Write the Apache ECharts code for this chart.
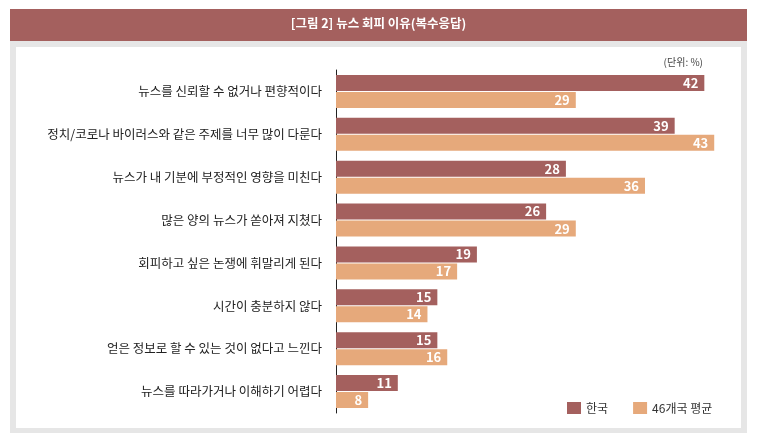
<!DOCTYPE html>
<html>
<head>
<meta charset="utf-8">
<script src="https://cdn.jsdelivr.net/npm/echarts@6/dist/echarts.min.js"></script>
<style>
  html, body { margin: 0; padding: 0; background: #fff; }
  #main { width: 757px; height: 442px; }
</style>
</head>
<body>
<div id="main"></div>
<script>
// 항목 (위에서 아래 순서)
var categories = [
  '뉴스를 신뢰할 수 없거나 편향적이다',
  '정치/코로나 바이러스와 같은 주제를 너무 많이 다룬다',
  '뉴스가 내 기분에 부정적인 영향을 미친다',
  '많은 양의 뉴스가 쏟아져 지쳤다',
  '회피하고 싶은 논쟁에 휘말리게 된다',
  '시간이 충분하지 않다',
  '얻은 정보로 할 수 있는 것이 없다고 느낀다',
  '뉴스를 따라가거나 이해하기 어렵다'
];
var seriesNames = ['한국', '46개국 평균'];
var korea = [42, 39, 28, 26, 19, 15, 15, 11];
var average = [29, 43, 36, 29, 17, 14, 16, 8];

var COLOR_KR = '#a4605e';
var COLOR_AVG = '#e6a97b';
var FONT = '"Noto Sans CJK KR", "Noto Sans", sans-serif';

var chart = echarts.init(document.getElementById('main'));

var valueLabel = {
  show: true,
  position: 'insideRight',
  distance: 6,
  color: '#fff',
  fontSize: 13,
  fontWeight: 'bold',
  fontFamily: FONT
};

var option = {
  backgroundColor: '#fff',
  animation: false,
  graphic: [
    //회색 테두리
    { type: 'rect', z: -10, shape: { x: 10, y: 9, width: 737, height: 424 }, style: { fill: '#e6e6e6' } },
    { type: 'rect', z: -9, shape: { x: 16, y: 47, width: 725, height: 381 }, style: { fill: '#fff' } },
    //제목 배너
    { type: 'rect', z: -8, shape: { x: 10, y: 9, width: 737, height: 32 }, style: { fill: COLOR_KR } },
    {
      type: 'text', z: 10, left: 'center', top: 17,
      style: { text: '[그림 2] 뉴스 회피 이유(복수응답)', fill: '#fff', font: 'bold 12.5px ' + FONT }
    },
    {
      type: 'text', z: 10, right: 54, top: 57,
      style: { text: '(단위: %)', fill: '#444', font: '10px ' + FONT }
    }
  ],
  legend: {
    data: seriesNames,
    left: 567,
    top: 402,
    padding: 0,
    icon: 'rect',
    itemWidth: 14,
    itemHeight: 12,
    itemGap: 25,
    textStyle: { color: '#333', fontSize: 12, fontFamily: FONT }
  },
  grid: { left: 336, right: 23, top: 70, height: 343, containLabel: false },
  xAxis: {
    type: 'value',
    min: 4.75,
    max: 45,
    startValue: 4.75,
    show: false
  },
  yAxis: {
    type: 'category',
    data: categories,
    inverse: true,
    axisLine: { show: true, onZero: false, lineStyle: { color: '#222', width: 1 } },
    axisTick: { show: false },
    splitLine: { show: false },
    axisLabel: { margin: 14, color: '#222', fontSize: 12.5, fontFamily: FONT }
  },
  series: [
    {
      name: seriesNames[0],
      type: 'bar',
      data: korea,
      barWidth: 16,
      barGap: '7%',
      clip: true,
      itemStyle: { color: COLOR_KR },
      label: valueLabel
    },
    {
      name: seriesNames[1],
      type: 'bar',
      data: average,
      barWidth: 16,
      barGap: '7%',
      clip: true,
      itemStyle: { color: COLOR_AVG },
      label: valueLabel
    }
  ]
};

chart.setOption(option);
</script>
</body>
</html>
